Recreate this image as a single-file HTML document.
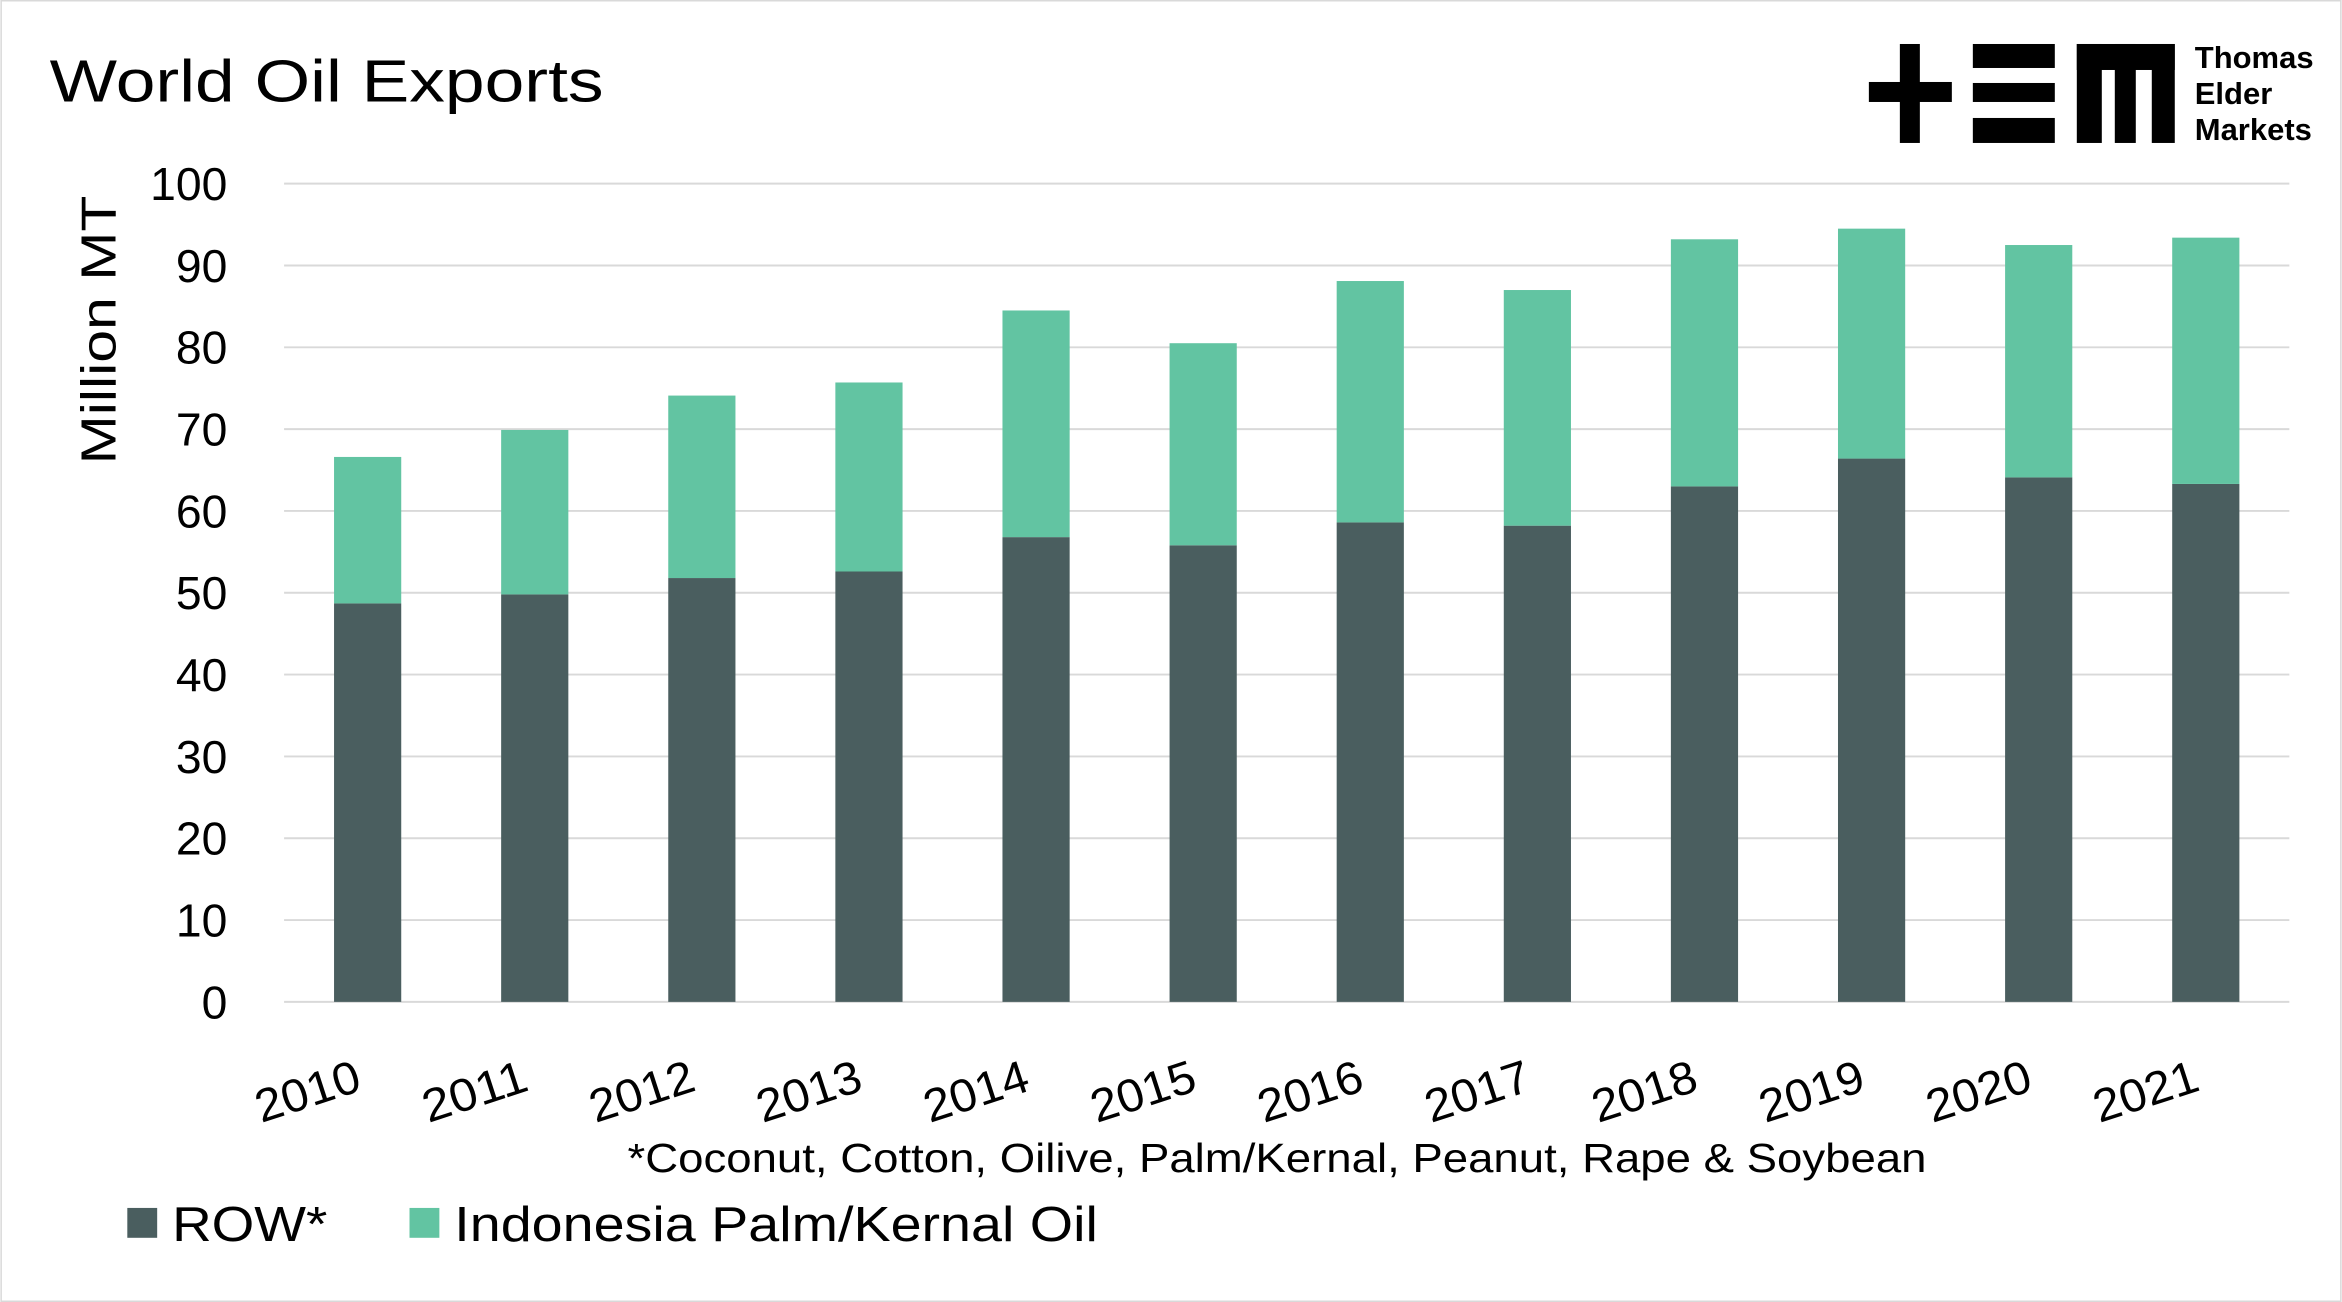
<!DOCTYPE html>
<html><head><meta charset="utf-8"><style>
html,body{margin:0;padding:0;background:#fff;}
svg{display:block;font-family:"Liberation Sans",sans-serif;}
</style></head><body>
<svg id="chart" width="2342" height="1302" viewBox="0 0 1568 872" xmlns="http://www.w3.org/2000/svg">
<rect x="0.5" y="0.5" width="1567" height="871" fill="#fff" stroke="#d9d9d9"/>
<text x="33" y="68" font-size="40" textLength="371" lengthAdjust="spacingAndGlyphs" fill="#000">World Oil Exports</text>
<g transform="scale(0.66955)">
  <rect x="1869" y="82" width="83" height="20" fill="#000"/>
  <rect x="1900" y="44" width="20" height="99" fill="#000"/>
  <rect x="1973" y="44" width="82" height="24" fill="#000"/>
  <rect x="1973" y="83" width="82" height="19" fill="#000"/>
  <rect x="1973" y="118" width="82" height="25" fill="#000"/>
  <rect x="2077" y="44" width="98" height="26" fill="#000"/>
  <rect x="2077" y="44" width="25" height="99" fill="#000"/>
  <rect x="2115" y="44" width="21" height="99" fill="#000"/>
  <rect x="2152" y="44" width="23" height="99" fill="#000"/>
  <text x="2195" y="68" font-size="31" font-weight="bold" fill="#000">Thomas</text>
  <text x="2195" y="104" font-size="31" font-weight="bold" fill="#000">Elder</text>
  <text x="2195" y="140" font-size="31" font-weight="bold" fill="#000">Markets</text>
</g>
<text transform="translate(77,221) rotate(-90)" text-anchor="middle" font-size="33" textLength="180" lengthAdjust="spacingAndGlyphs" fill="#000">Million MT</text>
<g id="grid"></g>
<g id="bars"></g>
<g id="yticks"></g>
<g id="xticks"></g>
<text x="420" y="785" font-size="27" textLength="870" lengthAdjust="spacingAndGlyphs" fill="#000">*Coconut, Cotton, Oilive, Palm/Kernal, Peanut, Rape &amp; Soybean</text>
<g>
  <rect x="85" y="809" width="20" height="20" fill="#4a5e5f"/>
  <text x="115" y="831" font-size="33" textLength="104" lengthAdjust="spacingAndGlyphs" fill="#000">ROW*</text>
  <rect x="274" y="809" width="20" height="20" fill="#62c4a2"/>
  <text x="304" y="831" font-size="33" textLength="431" lengthAdjust="spacingAndGlyphs" fill="#000">Indonesia Palm/Kernal Oil</text>
</g>
</svg>
<script>
const years = ['2010','2011','2012','2013','2014','2015','2016','2017','2018','2019','2020','2021'];
const rowValues = [48.7,49.8,51.8,52.6,56.8,55.8,58.6,58.2,63.0,66.4,64.1,63.3];
const indonesiaValues = [17.9,20.1,22.3,23.1,27.7,24.7,29.5,28.8,30.2,28.1,28.4,30.1];
const yTicks = [0,10,20,30,40,50,60,70,80,90,100];

const NS='http://www.w3.org/2000/svg';
const x0=190, x1=1533, yBase=671, yTop=123, yMax=100;
const step=(x1-x0)/years.length, barW=45;
const yScale=v=>yBase-(v/yMax)*(yBase-yTop);
const xCenter=i=>x0+step*(i+0.5);
function mk(tag,attrs,parent){const e=document.createElementNS(NS,tag);for(const k in attrs)e.setAttribute(k,attrs[k]);parent.appendChild(e);return e;}
const grid=document.getElementById('grid'),bars=document.getElementById('bars'),yt=document.getElementById('yticks'),xt=document.getElementById('xticks');
yTicks.forEach(t=>{
  const l=mk('line',{x1:x0,x2:x1,y1:yScale(t),y2:yScale(t),stroke:'#d9d9d9','stroke-width':1.3},grid);
  
  
  const tx=mk('text',{x:152,y:yScale(t)+11,'text-anchor':'end','font-size':31,fill:'#000'},yt);
  tx.textContent=t;
  
  
});
years.forEach((y,i)=>{
  const cx=xCenter(i);
  const r=rowValues[i], ind=indonesiaValues[i];
  const b1=mk('rect',{x:cx-barW/2,y:yScale(r),width:barW,height:yBase-yScale(r),fill:'#4a5e5f'},bars);
  
  
  const b2=mk('rect',{x:cx-barW/2,y:yScale(r+ind),width:barW,height:yScale(r)-yScale(r+ind),fill:'#62c4a2'},bars);
  
  
  const tx=mk('text',{'text-anchor':'middle','font-size':31,fill:'#000',textLength:72,lengthAdjust:'spacingAndGlyphs',transform:`translate(${cx-37},${741}) rotate(-18)`},xt);
  tx.textContent=y;
  
  
});
</script>
</body></html>
